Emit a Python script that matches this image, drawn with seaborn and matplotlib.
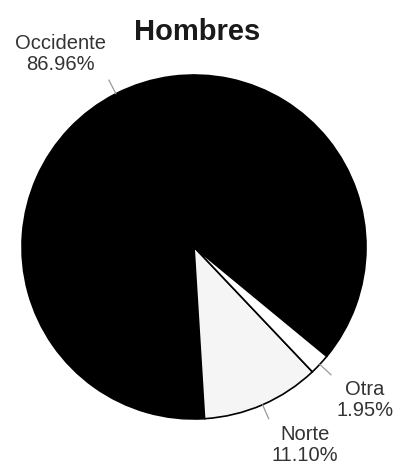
import numpy as np
import matplotlib
matplotlib.use('Agg')
import matplotlib.pyplot as plt
import seaborn as sns

# Data
regiones = ['Occidente', 'Norte', 'Otra']
porcentajes = [86.96, 11.10, 1.95]
colores = ['#000000', '#f5f5f5', '#ffffff']

sns.set_theme(style='white')
plt.rcParams['font.family'] = ['Liberation Sans', 'DejaVu Sans']

fig = plt.figure(figsize=(4.0, 4.67), dpi=100)
ax = fig.add_axes([0, 0, 1, 1])

# Pie, counterclockwise, Occidente first
wedges, _ = ax.pie(porcentajes, colors=colores, startangle=-39.5,
                   counterclock=True, radius=1.0,
                   wedgeprops=dict(edgecolor='black', linewidth=1.2))

# Labels with short leader lines
for w, reg, pct in zip(wedges, regiones, porcentajes):
    ang = np.deg2rad((w.theta1 + w.theta2) / 2)
    cx, cy = np.cos(ang), np.sin(ang)
    ax.plot([1.0 * cx, 1.09 * cx], [1.0 * cy, 1.09 * cy], color='#999999', lw=0.9)
    ha = 'right' if cx < 0 else 'left'
    va = 'bottom' if cy > 0 else 'top'
    ax.text(1.13 * cx, 1.13 * cy, f'{reg}\n{pct:.2f}%', ha=ha, va=va,
            multialignment='center', fontsize=14.5, color='#333333',
            linespacing=1.15)

# Title
ax.text(0.02, 1.25, 'Hombres', fontsize=21, fontweight='bold', color='#1a1a1a',
        ha='center', va='center')

# 1 data unit = 172 px, center at (194, 247) from top-left
ax.set_xlim(-194 / 172, (400 - 194) / 172)
ax.set_ylim(-(467 - 247) / 172, 247 / 172)
ax.set_aspect('auto')
ax.axis('off')

fig.savefig('out.png', dpi=100, facecolor='white')
